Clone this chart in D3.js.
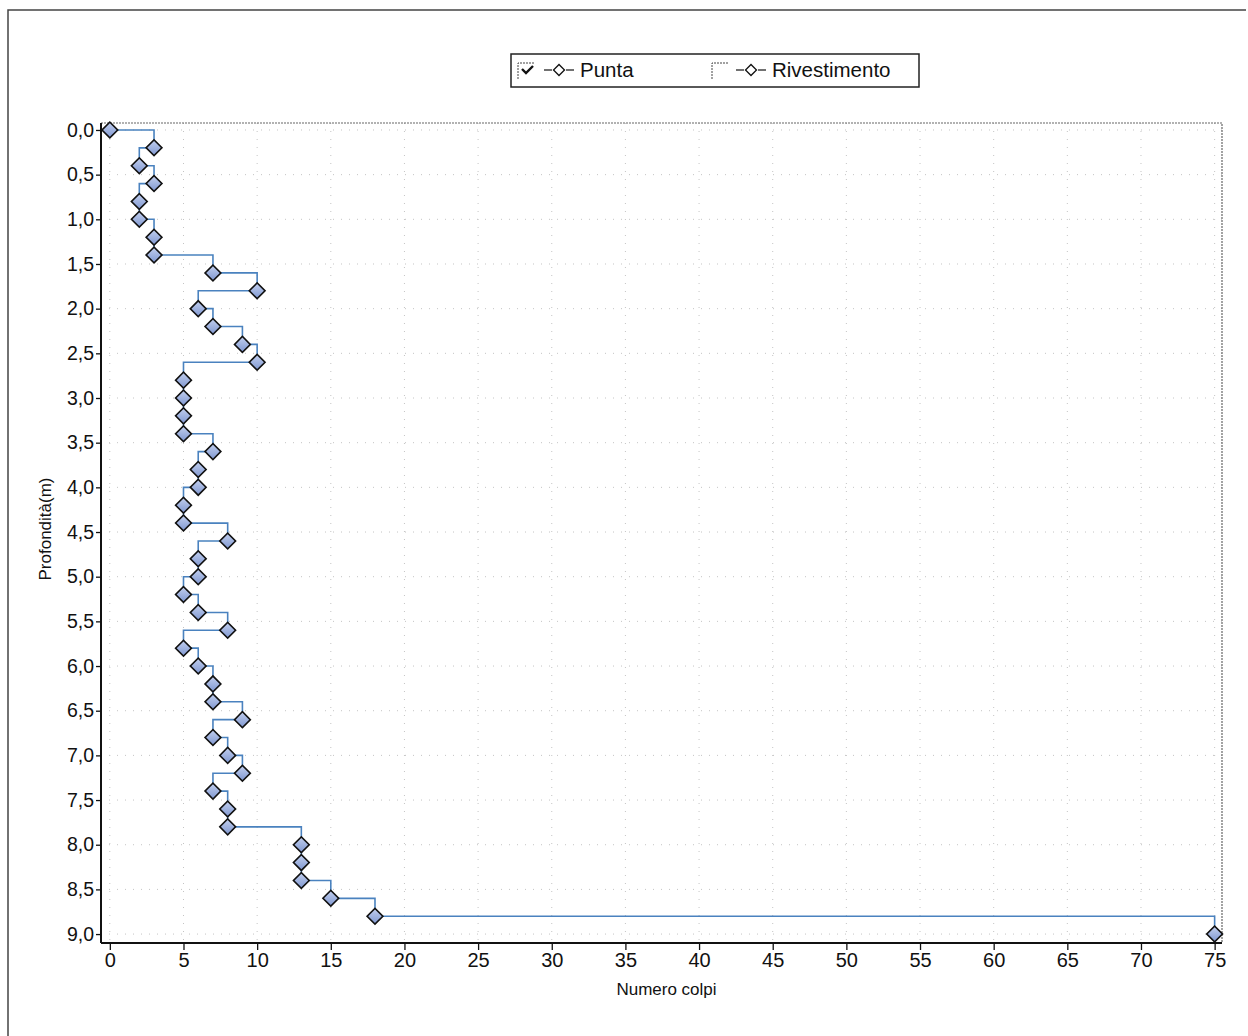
<!DOCTYPE html>
<html><head><meta charset="utf-8">
<script src="https://cdn.jsdelivr.net/npm/d3@7"></script>
<style>body{margin:0;background:#fff}svg{display:block}text{font-family:"Liberation Sans",Arial,sans-serif;fill:#111}</style>
</head><body>
<svg id="c" width="1248" height="1036"></svg>
<script>
const depths = [0.0,0.2,0.4,0.6,0.8,1.0,1.2,1.4,1.6,1.8,2.0,2.2,2.4,2.6,2.8,3.0,3.2,3.4,3.6,3.8,4.0,4.2,4.4,4.6,4.8,5.0,5.2,5.4,5.6,5.8,6.0,6.2,6.4,6.6,6.8,7.0,7.2,7.4,7.6,7.8,8.0,8.2,8.4,8.6,8.8,9.0];
const punta = [0,3,2,3,2,2,3,3,7,10,6,7,9,10,5,5,5,5,7,6,6,5,5,8,6,6,5,6,8,5,6,7,7,9,7,8,9,7,8,8,13,13,13,15,18,75];
const xTicks = [0,5,10,15,20,25,30,35,40,45,50,55,60,65,70,75];
const yTicks = [0,0.5,1,1.5,2,2.5,3,3.5,4,4.5,5,5.5,6,6.5,7,7.5,8,8.5,9];
const legendLabels = ["Punta","Rivestimento"];
const xTitle = "Numero colpi", yTitle = "Profondità(m)";

const svg = d3.select("#c");
const L=101,R=1222,T=123,B=943;
const x = d3.scaleLinear().domain([-0.6,75.5]).range([L,R]);
const y = d3.scaleLinear().domain([-0.078,9.1]).range([T,B]);
const FF = "Liberation Sans, Arial, sans-serif";

// outer frame
svg.append("path").attr("d","M8,1036 L8,10 L1246,10").attr("fill","none").attr("stroke","#444").attr("stroke-width",1.5);

// gradient for markers
const defs = svg.append("defs");
const g = defs.append("linearGradient").attr("id","mk").attr("x1","0").attr("y1","0").attr("x2","1").attr("y2","1");
g.append("stop").attr("offset","0").attr("stop-color","#c3d0ef");
g.append("stop").attr("offset","1").attr("stop-color","#7f97d0");

// grid
const grid = svg.append("g").attr("stroke","#c4c4c4").attr("stroke-width",1).attr("stroke-dasharray","1,7");
grid.selectAll("line.v").data(xTicks).join("line").attr("x1",d=>x(d)).attr("x2",d=>x(d)).attr("y1",T).attr("y2",B);
grid.selectAll("line.h").data(yTicks).join("line").attr("y1",d=>y(d)).attr("y2",d=>y(d)).attr("x1",L).attr("x2",R);

// dotted top/right frame
svg.append("path").attr("d",`M${L},${T} L${R},${T} L${R},${B}`).attr("fill","none").attr("stroke","#666").attr("stroke-width",1.2).attr("stroke-dasharray","2,1");

// axes
const xAxis = d3.axisBottom(x).tickValues(xTicks).tickFormat(d3.format("d")).tickSize(7).tickPadding(3);
const gx = svg.append("g").attr("transform",`translate(0,${B})`).call(xAxis);
gx.select(".domain").attr("d",`M${L},0H${R}`).attr("stroke","#111").attr("stroke-width",2);
gx.selectAll(".tick line").attr("stroke","#111").attr("stroke-width",1.3);
gx.selectAll("text").attr("font-size",20).attr("font-family",FF).attr("fill","#111");

const fmtY = d=>d.toFixed(1).replace(".",",");
const yAxis = d3.axisLeft(y).tickValues(yTicks).tickFormat(fmtY).tickSize(5).tickPadding(2);
const gy = svg.append("g").attr("transform",`translate(${L},0)`).call(yAxis);
gy.select(".domain").attr("d",`M0,${T}V${B}`).attr("stroke","#111").attr("stroke-width",2);
gy.selectAll(".tick line").attr("stroke","#111").attr("stroke-width",1.3);
gy.selectAll("text").attr("font-size",19.5).attr("font-family",FF).attr("fill","#111");

svg.append("text").attr("x",(L+R)/2+5).attr("y",995).attr("text-anchor","middle").attr("font-size",17).text(xTitle);
svg.append("text").attr("transform",`translate(51,${(T+B)/2-4}) rotate(-90)`).attr("text-anchor","middle").attr("font-size",17).text(yTitle);

// step line
const data = depths.map((d,i)=>({d, v:punta[i]}));
const line = d3.line().x(p=>x(p.v)).y(p=>y(p.d)).curve(d3.curveStepAfter);
svg.append("path").datum(data).attr("d",line).attr("fill","none").attr("stroke","#4a82bf").attr("stroke-width",1.6);

// markers
svg.selectAll("path.mk").data(data).join("path").attr("class","mk")
  .attr("transform",p=>`translate(${x(p.v)},${y(p.d)}) rotate(45)`)
  .attr("d",d3.symbol().type(d3.symbolSquare).size(125))
  .attr("fill","url(#mk)").attr("stroke","#111").attr("stroke-width",1.6);

// legend
const lg = svg.append("g");
lg.append("rect").attr("x",511).attr("y",54).attr("width",408).attr("height",33).attr("fill","#fff").attr("stroke","#222").attr("stroke-width",1.5);
function legendItem(x0, tx, label, checked){
  const it = lg.append("g");
  it.append("path").attr("d",`M${x0},${79} V${63} H${x0+16}`).attr("fill","none").attr("stroke","#444").attr("stroke-width",1).attr("stroke-dasharray","2,1");
  if(checked){
    it.append("path").attr("d",`M${x0+4},${69} L${x0+8},${73} L${x0+15},${66}`).attr("fill","none").attr("stroke","#111").attr("stroke-width",2.4);
  }
  const lx = tx-36;
  it.append("line").attr("x1",lx).attr("x2",lx+8).attr("y1",70).attr("y2",70).attr("stroke","#111").attr("stroke-width",1.2);
  it.append("line").attr("x1",lx+22).attr("x2",lx+30).attr("y1",70).attr("y2",70).attr("stroke","#111").attr("stroke-width",1.2);
  it.append("path").attr("transform",`translate(${lx+15},70) rotate(45)`).attr("d",d3.symbol().type(d3.symbolSquare).size(60)).attr("fill","#fff").attr("stroke","#111").attr("stroke-width",1.3);
  it.append("text").attr("x",tx).attr("y",77).attr("font-size",20.5).text(label);
}
legendItem(518, 580, legendLabels[0], true);
legendItem(712, 772, legendLabels[1], false);
</script>
</body></html>
